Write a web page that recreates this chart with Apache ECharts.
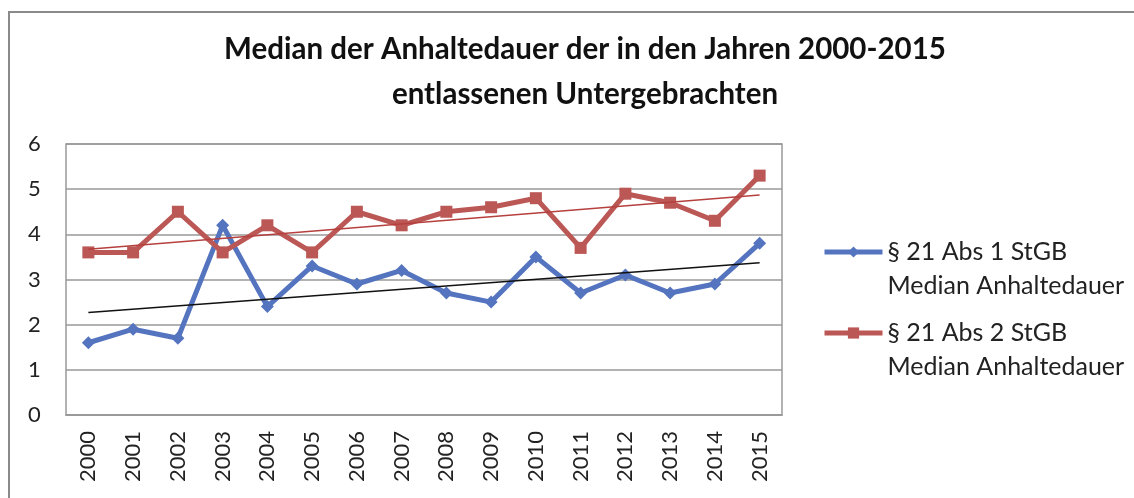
<!DOCTYPE html>
<html><head><meta charset="utf-8">
<script src="https://cdn.jsdelivr.net/npm/echarts@6/dist/echarts.min.js"></script>
<style>html,body{margin:0;padding:0;background:#fff}#c{width:1134px;height:498px}</style>
</head><body><div id="c"></div>
<script>
const years = ['2000','2001','2002','2003','2004','2005','2006','2007','2008','2009','2010','2011','2012','2013','2014','2015'];
const abs1 = [1.6,1.9,1.7,4.2,2.4,3.3,2.9,3.2,2.7,2.5,3.5,2.7,3.1,2.7,2.9,3.8];
const abs2 = [3.6,3.6,4.5,3.6,4.2,3.6,4.5,4.2,4.5,4.6,4.8,3.7,4.9,4.7,4.3,5.3];
const trend1 = [['2000',2.27],['2015',3.37]];
const trend2 = [['2000',3.67],['2015',4.87]];
const yTicks = [0,1,2,3,4,5,6];
const name1 = '§ 21 Abs 1 StGB\nMedian Anhaltedauer';
const name2 = '§ 21 Abs 2 StGB\nMedian Anhaltedauer';
const titleText = 'Median der Anhaltedauer der in den Jahren 2000-2015\nentlassenen Untergebrachten';

const BLUE = '#5474BF', RED = '#BB5755';
const LH = 34;
const legendBase = {orient:'vertical',left:822,padding:0,itemWidth:58,itemHeight:14,itemGap:0,
  lineStyle:{width:5},
  formatter:n=>'\n'+n,
  textStyle:{fontFamily:'Lato',fontSize:25,lineHeight:LH,color:'#222'}};

const chart = echarts.init(document.getElementById('c'), null, {renderer:'canvas'});
chart.setOption({
  animation:false,
  backgroundColor:'#fff',
  graphic:[{type:'rect',shape:{x:9,y:12,width:1140,height:500},style:{fill:'none',stroke:'#8a8a8a',lineWidth:2}}],
  title:{text:titleText,left:580,textAlign:'center',top:22,textStyle:{fontFamily:'Lato',fontWeight:'bold',fontSize:29.5,lineHeight:45,color:'#111'}},
  legend:[
    Object.assign({},legendBase,{top:201,data:[name1]}),
    Object.assign({},legendBase,{top:282,data:[name2]})
  ],
  grid:{left:66,right:352,top:144,bottom:83,show:true,borderColor:'#999',borderWidth:1.5},
  xAxis:{type:'category',data:years,boundaryGap:true,
    axisLine:{lineStyle:{color:'#999',width:1.5}},axisTick:{show:false},
    axisLabel:{rotate:90,fontFamily:'Lato',fontSize:22,color:'#222',margin:16}},
  yAxis:{type:'value',min:0,max:6,interval:1,
    axisLine:{show:false},axisTick:{show:false},
    axisLabel:{fontFamily:'Lato',fontSize:22,color:'#222',margin:38,align:'left',
      formatter:v=>yTicks.includes(v)?String(v):''},
    splitLine:{lineStyle:{color:'#999',width:1.5}}},
  series:[
    {name:name1,type:'line',data:abs1,symbol:'diamond',symbolSize:13,
      lineStyle:{color:BLUE,width:5},itemStyle:{color:BLUE},z:3},
    {name:name2,type:'line',data:abs2,symbol:'rect',symbolSize:12,
      lineStyle:{color:RED,width:5},itemStyle:{color:RED},z:3},
    {name:'trend1',type:'line',data:trend1,symbol:'none',lineStyle:{color:'#111',width:1.5},z:4,silent:true},
    {name:'trend2',type:'line',data:trend2,symbol:'none',lineStyle:{color:'#B5403D',width:1.5},z:4,silent:true}
  ]
});
</script></body></html>
